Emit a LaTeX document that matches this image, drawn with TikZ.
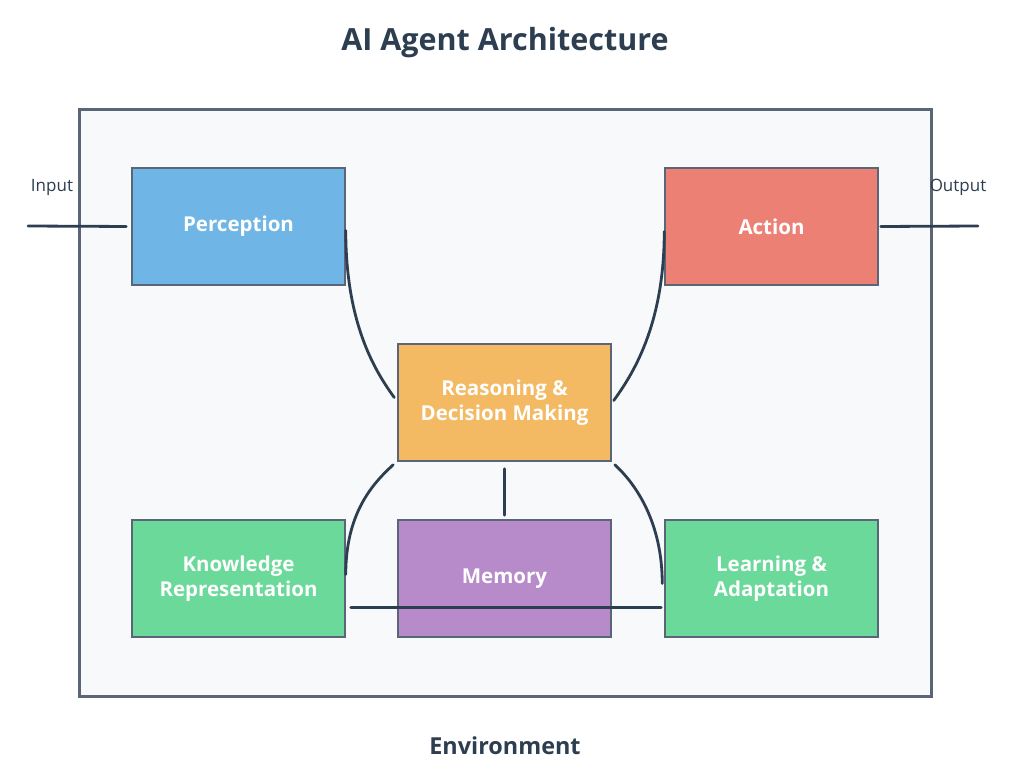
\documentclass[tikz,border=0pt]{standalone}
\usepackage{fontspec}
\setmainfont{Open Sans}
\definecolor{ink}{HTML}{2C3E50}
\definecolor{frame}{HTML}{5A6677}
\definecolor{envfill}{HTML}{F8F9FB}
\definecolor{cblue}{HTML}{6FB5E5}
\definecolor{cred}{HTML}{EC8075}
\definecolor{corange}{HTML}{F3BA63}
\definecolor{cgreen}{HTML}{6AD99A}
\definecolor{cpurple}{HTML}{B78ACA}
\tikzset{
  comp/.style={draw=frame, line width=1.5pt, minimum width=213pt, minimum height=117pt,
    text=white, font=\fontsize{20.5}{25.5}\selectfont\bfseries, align=center, inner sep=0pt},
  link/.style={draw=ink, line width=2.8pt, line cap=round},
  lbl/.style={text=ink, font=\fontsize{17}{20}\selectfont, inner sep=0pt}
}
\begin{document}
\begin{tikzpicture}[x=1pt,y=-1pt]
\useasboundingbox (0,0) rectangle (1016,766);
\fill[white] (0,0) rectangle (1016,766);
\node[text=ink, font=\fontsize{30.5}{34}\selectfont\bfseries] (title) at (505,43) {AI Agent Architecture};
\draw[draw=frame, fill=envfill, line width=3pt] (79,109) rectangle (931,696);
\node[text=ink, font=\fontsize{23.4}{27}\selectfont\bfseries] (env) at (505,746) {Environment};

\node[comp, fill=cblue] (perc) at (238.5,226.5) {Perception};
\node[comp, fill=cred] (act) at (771.5,226.5) {Action};
\node[comp, fill=corange] (reas) at (504.5,402.5) {Reasoning \&\\Decision Making};
\node[comp, fill=cgreen] (know) at (238.5,578.5) {Knowledge\\Representation};
\node[comp, fill=cpurple] (mem) at (504.5,578.5) {Memory};
\node[comp, fill=cgreen] (learn) at (771.5,578.5) {Learning \&\\Adaptation};

\node[lbl] (inl) at (52,187) {Input};
\node[lbl] (outl) at (958,187) {Output};
\coordinate (inp) at (28,226);
\coordinate (outp) at (978,226);

\draw[link, shorten >=5pt] (inp) -- (perc.west);
\draw[link, shorten <=2pt] (act.east) -- (outp);
\draw[link] ([yshift=-4pt]perc.east) .. controls +(0,95) and +(-18,-25) .. ([shift={(-3,-5)}]reas.west);
\draw[link] ([shift={(2,-2)}]reas.east) .. controls +(18,-25) and +(0,95) .. ([yshift=-5pt]act.west);
\draw[link] ([shift={(-4,3)}]reas.south west) .. controls +(-22,20) and +(0,-60) .. ([yshift=4pt]know.east);
\draw[link] ([shift={(3,3)}]reas.south east) .. controls +(22,20) and +(0,-60) .. ([shift={(-2,5)}]learn.west);
\draw[link, shorten <=7pt, shorten >=4pt] (reas.south) -- (mem.north);
\draw[link] ([shift={(5,-30)}]know.south east) -- ([shift={(-3,-30)}]learn.south west);
\end{tikzpicture}
\end{document}
